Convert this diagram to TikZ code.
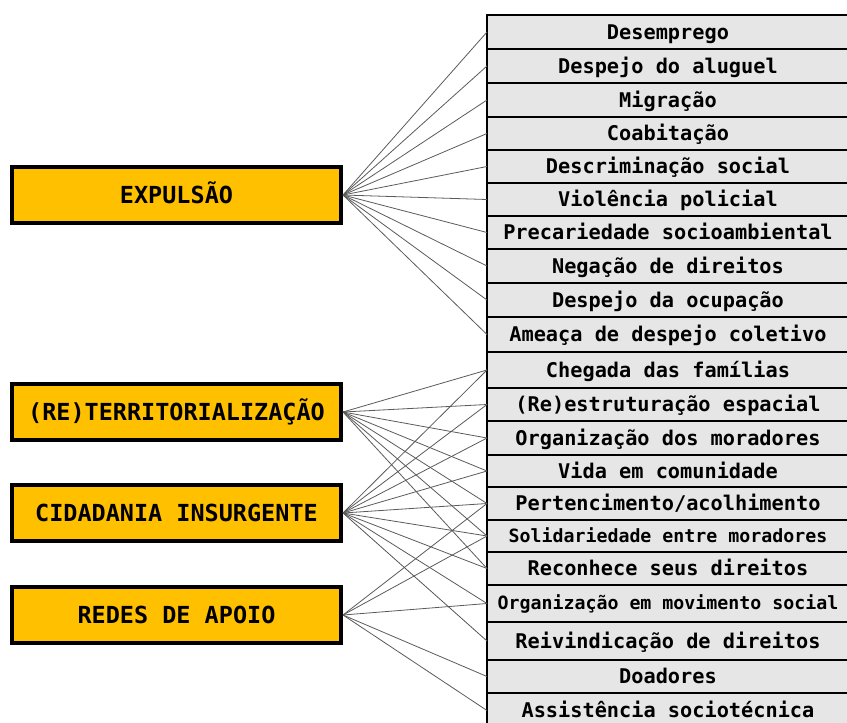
\documentclass[tikz,border=0pt]{standalone}
\usepackage{fontspec}
\setmonofont{DejaVu Sans Mono}
\definecolor{gold}{HTML}{FFC000}
\definecolor{cellgray}{HTML}{E7E6E6}
\definecolor{linegray}{HTML}{5A5A5A}

\begin{document}
\begin{tikzpicture}[x=0.75pt,y=-0.75pt,
    concept/.style={draw=black,line width=3pt,fill=gold,inner sep=0pt,
      minimum width=329*0.75pt,minimum height=56*0.75pt,
      text height=12.8pt,text depth=0pt,
      font=\ttfamily\bfseries\fontsize{17.6}{20}\selectfont},
    item/.style={draw=black,line width=2pt,fill=cellgray,inner sep=0pt,outer sep=0pt,
      anchor=north west,minimum width=362*0.75pt,
      text height=10.6pt,text depth=0pt,
      font=\ttfamily\bfseries\fontsize{15.2}{18}\selectfont},
    rowh/.style={minimum height=#1*0.75pt},
    longtext/.style={text height=9.6pt,
      font=\ttfamily\bfseries\fontsize{13.7}{16}\selectfont},
    link/.style={draw=linegray,line width=0.6pt}]
  \useasboundingbox (0,0) rectangle (847,722);

  \node[concept] (expulsao) at (176.5,195) {EXPULSÃO};
  \node[concept] (territorio) at (176.5,412) {(RE)TERRITORIALIZAÇÃO};
  \node[concept] (cidadania) at (176.5,513) {CIDADANIA INSURGENTE};
  \node[concept] (redes) at (176.5,615) {REDES DE APOIO};

  \node[item,rowh=34] (desemprego) at (487,15) {Desemprego};
  \node[item,rowh=34] (aluguel) at (487,49) {Despejo do aluguel};
  \node[item,rowh=34] (migracao) at (487,83) {Migração};
  \node[item,rowh=33] (coabitacao) at (487,117) {Coabitação};
  \node[item,rowh=33] (discriminacao) at (487,150) {Descriminação social};
  \node[item,rowh=33] (violencia) at (487,183) {Violência policial};
  \node[item,rowh=33] (precariedade) at (487,216) {Precariedade socioambiental};
  \node[item,rowh=34] (negacao) at (487,249) {Negação de direitos};
  \node[item,rowh=34] (ocupacao) at (487,283) {Despejo da ocupação};
  \node[item,rowh=35] (ameaca) at (487,317) {Ameaça de despejo coletivo};
  \node[item,rowh=36] (chegada) at (487,352) {Chegada das famílias};
  \node[item,rowh=33] (estruturacao) at (487,388) {(Re)estruturação espacial};
  \node[item,rowh=34] (moradores) at (487,421) {Organização dos moradores};
  \node[item,rowh=32] (vida) at (487,455) {Vida em comunidade};
  \node[item,rowh=33] (pertencimento) at (487,487) {Pertencimento/acolhimento};
  \node[item,rowh=32,longtext] (solidariedade) at (487,520) {Solidariedade entre moradores};
  \node[item,rowh=33] (reconhece) at (487,552) {Reconhece seus direitos};
  \node[item,rowh=37,longtext] (movimento) at (487,585) {Organização em movimento social};
  \node[item,rowh=38] (reivindicacao) at (487,622) {Reivindicação de direitos};
  \node[item,rowh=33] (doadores) at (487,660) {Doadores};
  \node[item,rowh=35] (assistencia) at (487,693) {Assistência sociotécnica};

  \foreach \t in {desemprego,aluguel,migracao,coabitacao,discriminacao,
      violencia,precariedade,negacao,ocupacao,ameaca}
    \draw[link] (expulsao.east) -- (\t.west);
  \foreach \t in {chegada,estruturacao,moradores,vida,pertencimento,
      solidariedade,reconhece}
    \draw[link] (territorio.east) -- (\t.west);
  \foreach \t in {chegada,estruturacao,moradores,vida,pertencimento,
      solidariedade,reconhece,movimento,reivindicacao}
    \draw[link] (cidadania.east) -- (\t.west);
  \foreach \t in {pertencimento,solidariedade,movimento,doadores,assistencia}
    \draw[link] (redes.east) -- (\t.west);
\end{tikzpicture}
\end{document}
